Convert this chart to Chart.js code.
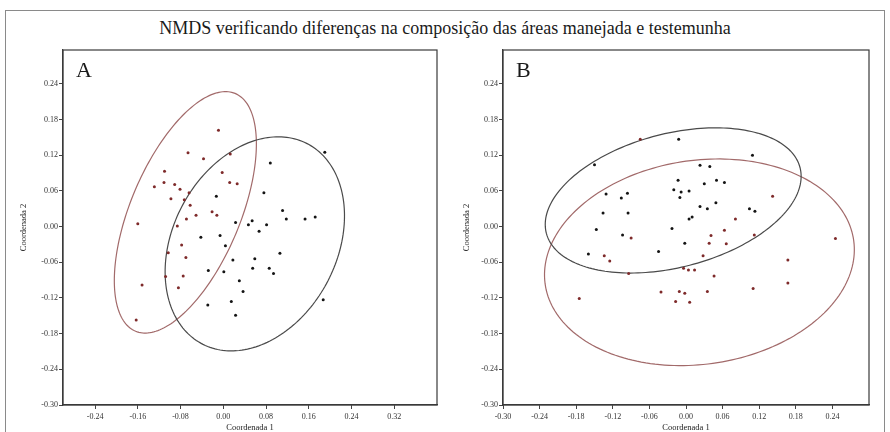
<!DOCTYPE html>
<html>
<head>
<meta charset="utf-8">
<script src="https://cdn.jsdelivr.net/npm/chart.js@4.4.1/dist/chart.umd.min.js"></script>
<style>
body { margin: 0; background: #fff; width: 890px; height: 432px; position: relative; overflow: hidden; font-family: "Liberation Serif", serif; }
#frame { position: absolute; left: 5px; top: 10px; width: 880px; height: 440px; border: 1px solid #8a8a8a; box-sizing: border-box; }
#title { position: absolute; left: 0; top: 18px; width: 890px; text-align: center; font-size: 18px; color: #1a1a1a; }
.panel { position: absolute; top: 0; height: 432px; }
</style>
</head>
<body>
<div id="frame"></div>
<div id="title">NMDS verificando diferenças na composição das áreas manejada e testemunha</div>
<div class="panel" style="left:0;width:445px"><canvas id="chartA" width="445" height="432"></canvas></div>
<div class="panel" style="left:445px;width:445px"><canvas id="chartB" width="445" height="432"></canvas></div>

<script>
// tick labels
const aXTicks = [-0.24, -0.16, -0.08, 0, 0.08, 0.16, 0.24, 0.32];
const bXTicks = [-0.30, -0.24, -0.18, -0.12, -0.06, 0, 0.06, 0.12, 0.18, 0.24];
const yTicks = [-0.30, -0.24, -0.18, -0.12, -0.06, 0, 0.06, 0.12, 0.18, 0.24];

// panel A - manejada (red) / testemunha (black)
const aRedX = [-0.009, -0.066, -0.037, 0.013, -0.110, -0.111, -0.129, -0.091, -0.081, -0.064,
  -0.098, -0.073, -0.002, 0.012, 0.026, -0.062, -0.160, -0.152, -0.163, -0.086,
  -0.078, -0.103, -0.070, -0.108, -0.075, -0.084, -0.051, -0.021, -0.012, -0.069];
const aRedY = [0.162, 0.124, 0.114, 0.122, 0.093, 0.074, 0.067, 0.071, 0.063, 0.057,
  0.047, 0.045, 0.091, 0.074, 0.072, 0.036, 0.005, -0.098, -0.157, 0.001,
  -0.031, -0.044, -0.052, -0.084, -0.083, -0.103, 0.019, 0.025, 0.019, 0.013];
const aBlackX = [0.088, 0.190, -0.013, 0.076, 0.111, 0.118, 0.153, 0.172, 0.023, 0.047,
  0.054, 0.081, 0.067, -0.042, -0.006, 0.004, 0.106, 0.018, 0.059, 0.055,
  0.086, 0.094, -0.028, 0.001, 0.030, 0.037, 0.015, -0.029, 0.023, 0.187];
const aBlackY = [0.107, 0.125, 0.051, 0.057, 0.027, 0.013, 0.013, 0.016, 0.007, 0.003,
  0.010, 0.003, -0.008, -0.018, -0.015, -0.032, -0.045, -0.056, -0.054, -0.070,
  -0.070, -0.079, -0.074, -0.076, -0.091, -0.109, -0.126, -0.132, -0.149, -0.123];

// panel B
const bRedX = [-0.075, 0.142, 0.081, 0.063, 0.041, 0.038, 0.066, 0.112, -0.090, -0.134,
  -0.125, 0.028, -0.094, -0.004, 0.004, 0.014, 0.046, 0.245, 0.167, 0.167,
  0.110, 0.035, -0.041, -0.011, -0.002, -0.017, 0.006, -0.175];
const bRedY = [0.147, 0.051, 0.013, -0.006, -0.015, -0.028, -0.029, -0.014, -0.019, -0.049,
  -0.058, -0.049, -0.079, -0.070, -0.073, -0.073, -0.083, -0.020, -0.056, -0.095,
  -0.104, -0.109, -0.110, -0.109, -0.112, -0.126, -0.127, -0.121];
const bBlackX = [-0.012, -0.150, 0.109, 0.023, 0.039, -0.013, 0.030, 0.050, 0.063, -0.020,
  -0.008, 0.005, -0.010, -0.131, -0.106, -0.096, -0.136, -0.095, 0.049, 0.035,
  0.023, 0.104, 0.113, 0.005, 0.010, -0.147, -0.023, -0.104, -0.002, -0.160, -0.045];
const bBlackY = [0.147, 0.104, 0.120, 0.103, 0.101, 0.078, 0.072, 0.078, 0.074, 0.062,
  0.058, 0.060, 0.049, 0.055, 0.048, 0.056, 0.023, 0.023, 0.040, 0.030,
  0.034, 0.030, 0.026, 0.013, 0.016, -0.005, -0.003, -0.014, -0.028, -0.046, -0.042];

// ellipses: centre, then two conjugate half-axes (data units)
const aRedEllipse = [-0.071, 0.024, 0.093, 0.200, 0.095, -0.035];
const aBlackEllipse = [0.059, -0.029, 0.097, 0.169, 0.137, -0.062];
const bRedEllipse = [0.022, -0.060, 0.253, 0.036, 0.022, -0.170];
const bBlackEllipse = [-0.021, 0.044, 0.208, 0.055, 0.027, -0.109];

const redColor = "#7e2a2a";
const blackColor = "#141414";
const serif = "'Liberation Serif', 'Times New Roman', serif";

function toPoints(xs, ys) {
    return xs.map((x, i) => ({ x: x, y: ys[i] }));
}

const panelPlugin = {
    id: "panel",
    beforeDatasetsDraw(chart, args, opts) {
        const { ctx, scales: { x, y } } = chart;
        ctx.save();
        ctx.lineWidth = 1.2;
        opts.ellipses.forEach(e => {
            const p = e.values;
            ctx.beginPath();
            for (let i = 0; i <= 200; i++) {
                const t = i / 200 * Math.PI * 2;
                const vx = p[0] + p[2] * Math.cos(t) + p[4] * Math.sin(t);
                const vy = p[1] + p[3] * Math.cos(t) + p[5] * Math.sin(t);
                const px = x.getPixelForValue(vx), py = y.getPixelForValue(vy);
                if (i === 0) ctx.moveTo(px, py); else ctx.lineTo(px, py);
            }
            ctx.closePath();
            ctx.strokeStyle = e.color;
            ctx.stroke();
        });
        ctx.restore();
    },
    afterDraw(chart, args, opts) {
        const { ctx, chartArea: a } = chart;
        ctx.save();
        ctx.strokeStyle = "#3a3a3a";
        ctx.lineWidth = 1.2;
        ctx.strokeRect(a.left, a.top, a.right - a.left, a.bottom - a.top);
        ctx.fillStyle = "#1a1a1a";
        ctx.font = "22px " + serif;
        ctx.textBaseline = "alphabetic";
        ctx.fillText(opts.letter, a.left + 13, 77);
        ctx.restore();
    }
};

function makeChart(id, cfg) {
    const tickFont = { family: serif, size: 8 };
    const titleFont = { family: serif, size: 8.5, lineHeight: 1 };
    return new Chart(document.getElementById(id), {
        type: "scatter",
        data: {
            datasets: [
                {
                    label: "Manejada",
                    data: toPoints(cfg.redX, cfg.redY),
                    backgroundColor: redColor,
                    borderColor: redColor,
                    pointRadius: 1.5,
                    borderWidth: 0
                },
                {
                    label: "Testemunha",
                    data: toPoints(cfg.blackX, cfg.blackY),
                    backgroundColor: blackColor,
                    borderColor: blackColor,
                    pointRadius: 1.5,
                    borderWidth: 0
                }
            ]
        },
        options: {
            responsive: false,
            animation: false,
            devicePixelRatio: 1,
            layout: { padding: { top: 50, right: cfg.padRight, left: 0, bottom: 0 } },
            plugins: {
                legend: { display: false },
                tooltip: { enabled: false },
                panel: { letter: cfg.letter, ellipses: cfg.ellipses }
            },
            scales: {
                x: {
                    type: "linear",
                    min: cfg.xMin,
                    max: cfg.xMax,
                    afterBuildTicks: s => { s.ticks = cfg.xTicks.map(v => ({ value: v })); },
                    afterFit: s => { s.height = 27; },
                    ticks: {
                        callback: v => v.toFixed(2),
                        font: tickFont,
                        color: "#333",
                        padding: 3,
                        maxRotation: 0,
                        autoSkip: false
                    },
                    grid: { drawOnChartArea: false, drawTicks: true, tickLength: 4, color: "#444" },
                    border: { color: "#3a3a3a", width: 1.2 },
                    title: { display: true, text: "Coordenada 1", font: titleFont, color: "#222", padding: 0 }
                },
                y: {
                    type: "linear",
                    min: -0.30,
                    max: 0.297,
                    afterBuildTicks: s => { s.ticks = yTicks.map(v => ({ value: v })); },
                    afterFit: s => { s.width = cfg.yWidth; },
                    ticks: {
                        callback: v => v.toFixed(2),
                        font: tickFont,
                        color: "#333",
                        padding: 1,
                        autoSkip: false
                    },
                    grid: { drawOnChartArea: false, drawTicks: true, tickLength: 4, color: "#444" },
                    border: { color: "#3a3a3a", width: 1.2 },
                    title: { display: true, text: "Coordenada 2", font: titleFont, color: "#222", padding: { top: cfg.yTitlePad } }
                }
            }
        },
        plugins: [panelPlugin]
    });
}

makeChart("chartA", {
    letter: "A",
    redX: aRedX, redY: aRedY, blackX: aBlackX, blackY: aBlackY,
    xMin: -0.30, xMax: 0.40, xTicks: aXTicks,
    yWidth: 63, yTitlePad: 20, padRight: 8,
    ellipses: [
        { values: aRedEllipse, color: "#a26a6a" },
        { values: aBlackEllipse, color: "#4a4a4a" }
    ]
});

makeChart("chartB", {
    letter: "B",
    redX: bRedX, redY: bRedY, blackX: bBlackX, blackY: bBlackY,
    xMin: -0.30, xMax: 0.30, xTicks: bXTicks,
    yWidth: 58, yTitlePad: 18, padRight: 21,
    ellipses: [
        { values: bRedEllipse, color: "#a26a6a" },
        { values: bBlackEllipse, color: "#4a4a4a" }
    ]
});
</script>
</body>
</html>
